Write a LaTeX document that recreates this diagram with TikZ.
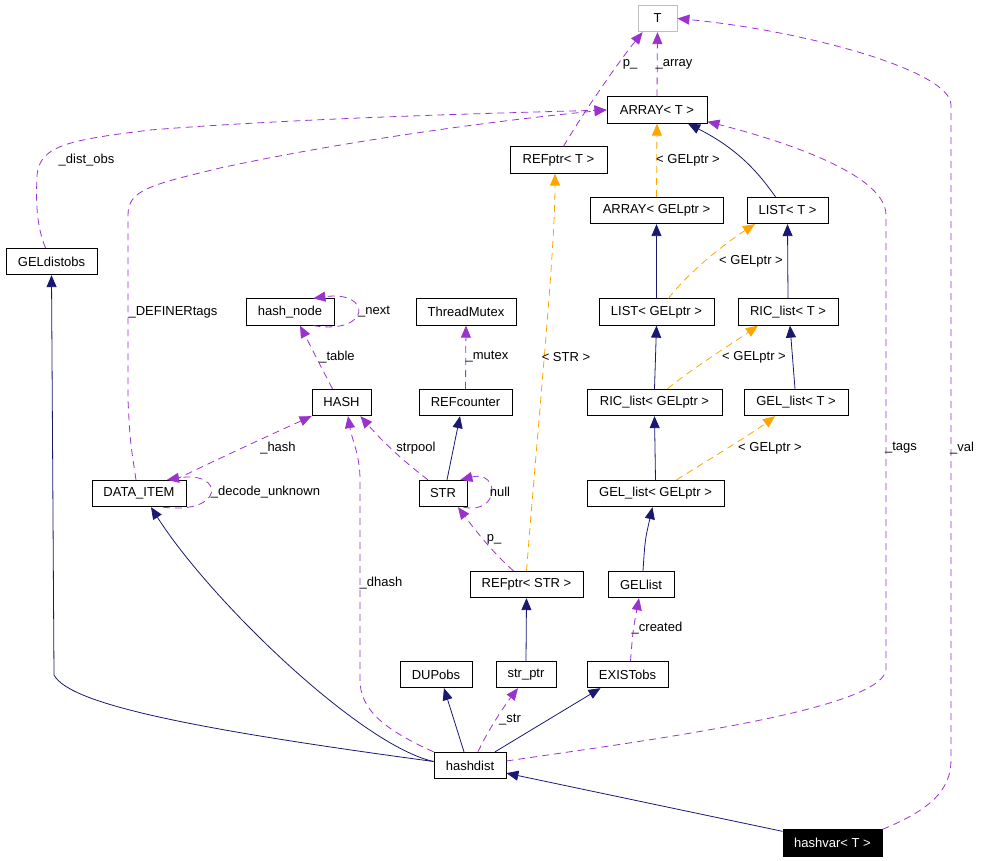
\documentclass[tikz,border=0pt]{standalone}
\usepackage{fontspec}
\setmainfont{Liberation Sans}
\usetikzlibrary{arrows.meta}
\definecolor{navy}{RGB}{25,25,112}
\definecolor{paars}{RGB}{154,50,205}
\definecolor{oranje}{RGB}{255,165,0}
\definecolor{grijs}{RGB}{191,191,191}

\tikzset{
  klasse/.style={draw, line width=0.8pt, minimum height=26.5pt, inner sep=0pt},
  lbl/.style={inner sep=0pt},
  punt/.style={-{Triangle[length=12pt,width=10pt]}, line width=0.8pt},
  erft/.style={punt, draw=navy},
  lid/.style={punt, draw=paars, dash pattern=on 7pt off 5pt},
  sjabloon/.style={punt, draw=oranje, dash pattern=on 7pt off 5pt}
}

\begin{document}
\begin{tikzpicture}[x=1pt, y=-1pt, every node/.style={font=\fontsize{13}{15}\selectfont}]
  \useasboundingbox (0,0) rectangle (983,861);

  % klassen
  \node[klasse, draw=grijs, minimum width=39pt] (T) at (657.5,18.5) {T};
  \foreach \nm/\x/\y/\w/\txt in {
      arrT/657/110/100/ARRAY< T >,
      refT/558.5/160/97/REFptr< T >,
      aG/656.5/210.5/133/ARRAY< GELptr >,
      lT/787.5/210.5/81/LIST< T >,
      gds/51.5/261.5/91/GELdistobs,
      hn/290/312/88/hash\_node,
      tm/466/312/100/ThreadMutex,
      lG/656.5/312/115/LIST< GELptr >,
      rT/788/312/100/RIC\_list< T >,
      hash/341.5/402.5/59/HASH,
      rc/465.5/402.5/93/REFcounter,
      rG/654.5/402.5/135/RIC\_list< GELptr >,
      gT/796/402.5/104/GEL\_list< T >,
      di/139/493.5/94/DATA\_ITEM,
      str/443/493.5/48/STR,
      gG/655.5/493.5/137/GEL\_list< GELptr >,
      rS/526.5/584.5/113/REFptr< STR >,
      gl/641/584.5/66/GELlist,
      dup/436/674.5/72/DUPobs,
      sp/526/674.5/60/str\_ptr,
      eo/627.5/674.5/81/EXISTobs,
      hd/470/765.5/72/hashdist}{
    \node[klasse, minimum width=\w pt] (\nm) at (\x,\y) {\txt};
  }
  \node[klasse, fill=black, text=white, minimum width=99pt] (hv) at (832.5,843) {hashvar< T >};

  % overerving
  \draw[erft] ([xshift=-12pt]lT.north) .. controls (760,175) and (740,150) .. ([xshift=31pt]arrT.south);
  \draw[erft] (lG.north) -- (aG.south);
  \draw[erft] (rT.north) -- (lT.south);
  \draw[erft] (rG.north) -- (lG.south);
  \draw[erft] ([xshift=-1pt]gT.north) -- ([xshift=2pt]rT.south);
  \draw[erft] (gG.north) -- (rG.south);
  \draw[erft] ([xshift=2pt]gl.north) .. controls (645,540) .. ([xshift=-3pt]gG.south);
  \draw[erft] ([xshift=4pt]str.north) -- ([xshift=-5.5pt]rc.south);
  \draw[erft] (sp.north) -- (rS.south);
  \draw[erft] ([xshift=-6pt]hd.north) -- ([xshift=8pt]dup.south);
  \draw[erft] ([xshift=25pt]hd.north) -- ([xshift=-27pt]eo.south);
  \draw[erft] ([yshift=4pt]hd.west) .. controls (360,745) and (210,600) .. ([xshift=12pt]di.south);
  \draw[erft] ([yshift=4pt]hd.west) .. controls (200,730) and (70,705) .. (54,675) -- (gds.south);
  \draw[erft] ([yshift=-2pt]hv.north west) -- ([yshift=6pt]hd.south east);

  % sjablonen
  \draw[sjabloon] (aG.north) -- (arrT.south);
  \draw[sjabloon] (rS.north) .. controls (540,400) and (555,250) .. ([xshift=-3.5pt]refT.south);
  \draw[sjabloon] ([xshift=12pt]lG.north) .. controls (690,270) and (730,240) .. ([xshift=-32.5pt]lT.south);
  \draw[sjabloon] ([xshift=13pt]rG.north) .. controls (690,370) and (730,345) .. ([xshift=-30pt]rT.south);
  \draw[sjabloon] ([xshift=21pt]gG.north) .. controls (700,465) and (750,435) .. ([xshift=-21pt]gT.south);

  % leden
  \draw[lid] (arrT.north) -- (T.south);
  \draw[lid] ([xshift=5pt]refT.north) .. controls (585,110) and (620,60) .. ([xshift=5pt]T.south west);
  \draw[lid] (hv.north east) .. controls (930,810) and (951,790) .. (951,760) -- (951,105)
    .. controls (951,70) and (800,30) .. (T.east);
  \draw[lid] ([xshift=-6pt]gds.north) .. controls (36,225) and (36,200) .. (37,175)
    .. controls (40,145) and (70,140) .. (150,130) .. controls (300,118) and (500,113) .. (arrT.west);
  \draw[lid] ([xshift=-3pt]di.north) .. controls (130,440) .. (128,400) -- (128,215)
    .. controls (128,190) and (150,185) .. (220,168) .. controls (350,140) and (500,120) .. (arrT.west);
  \draw[lid] ([yshift=4.5pt]hd.east) .. controls (650,740) and (880,710) .. (886,670) -- (886,215)
    .. controls (886,170) and (760,135) .. ([yshift=2pt]arrT.south east);
  \draw[lid] ([xshift=3pt]eo.north) .. controls (633,630) .. ([xshift=-2pt]gl.south);
  \draw[lid] ([xshift=8pt]hd.north) .. controls (488,730) and (505,705) .. ([xshift=-8pt]sp.south);
  \draw[lid] (hd.north west) .. controls (385,730) and (360,710) .. (360,680) -- (360,480)
    .. controls (360,455) and (352,440) .. ([xshift=6.5pt]hash.south);
  \draw[lid] ([xshift=-15pt]str.north) .. controls (415,470) and (390,450) .. ([xshift=-11pt]hash.south east);
  \draw[lid] ([xshift=-4pt]str.south east) .. controls (500,515) and (500,470) .. ([xshift=-7pt]str.north east);
  \draw[lid] ([xshift=-13pt]rS.north) .. controls (495,555) and (475,530) .. ([xshift=15pt]str.south);
  \draw[lid] (rc.north) -- (tm.south);
  \draw[lid] ([xshift=-9pt]hash.north) .. controls (320,365) and (310,345) .. ([xshift=10pt]hn.south);
  \draw[lid] ([xshift=-21pt]hn.south east) .. controls (372,335) and (372,290) .. ([xshift=-21pt]hn.north east);
  \draw[lid] ([xshift=24pt]di.south) .. controls (225,515) and (225,470) .. ([xshift=28pt]di.north);
  \draw[lid] ([xshift=36pt]di.north) .. controls (220,458) and (270,435) .. (hash.south west);

  % labels
  \node[lbl] (lArray) at (674,64) {\_array};
  \node[lbl] (lPT) at (630,64) {p\_};
  \node[lbl] (lGa) at (688,160) {< GELptr >};
  \node[lbl] (lGl) at (751,261) {< GELptr >};
  \node[lbl] (lGr) at (754,357) {< GELptr >};
  \node[lbl] (lGg) at (770,448) {< GELptr >};
  \node[lbl] (lStr) at (566,357) {< STR >};
  \node[lbl] (lDist) at (86.5,160) {\_dist\_obs};
  \node[lbl] (lDef) at (173,312) {\_DEFINERtags};
  \node[lbl] (lNext) at (374,312) {\_next};
  \node[lbl] (lTable) at (337,357) {\_table};
  \node[lbl] (lMutex) at (487,357) {\_mutex};
  \node[lbl] (lHash) at (278,448) {\_hash};
  \node[lbl] (lPool) at (416,448) {strpool};
  \node[lbl] (lTags) at (901,448) {\_tags};
  \node[lbl] (lVal) at (962,448) {\_val};
  \node[lbl] (lDec) at (265.5,492) {\_decode\_unknown};
  \node[lbl] (lNull) at (500,492) {null};
  \node[lbl] (lPS) at (494,539) {p\_};
  \node[lbl] (lDhash) at (381,583) {\_dhash};
  \node[lbl] (lCreated) at (657,628) {\_created};
  \node[lbl] (lStrp) at (510,720) {\_str};
\end{tikzpicture}
\end{document}
